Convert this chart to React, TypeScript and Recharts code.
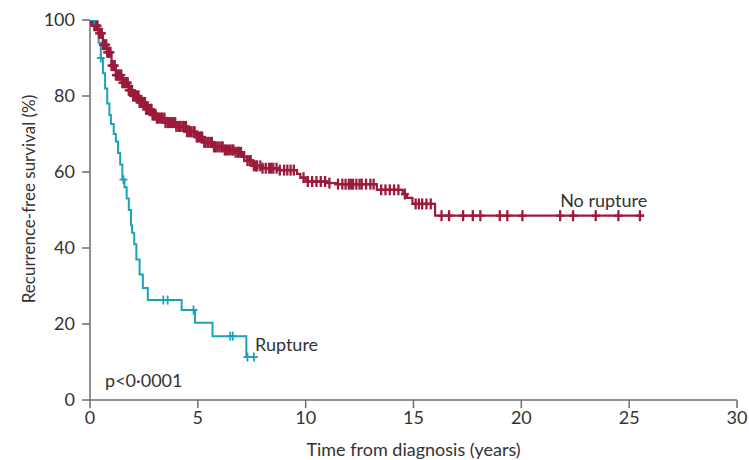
import React from "react";
import { ComposedChart, Line, Scatter, XAxis, YAxis, ReferenceDot } from "recharts";

// axis ticks
const xTicks = [0, 5, 10, 15, 20, 25, 30];
const yTicks = [0, 20, 40, 60, 80, 100];

// No rupture: Kaplan-Meier step points (years, % recurrence-free)
const noRuptureTimes = [
  0, 0.2, 0.4, 0.6, 0.8, 1.0, 1.2, 1.5, 1.8, 2.0, 2.3, 2.6, 2.9, 3.1, 3.5, 4.0, 4.5, 4.9, 5.3, 5.7,
  6.2, 6.7, 7.1, 7.3, 7.55, 8.0, 8.8, 9.6, 9.75, 10.0, 11.0, 11.4, 13.3, 14.5, 14.7, 14.95, 16.0, 25.7,
];
const noRuptureSurvival = [
  100, 98.5, 96.5, 93.5, 91.5, 88, 85.5, 83.5, 81.5, 80, 78.3, 76.5, 75, 74.2, 73, 72, 70.6, 69.2, 67.8, 66.6,
  65.8, 65.2, 64, 63, 61.6, 61, 60.5, 59.5, 58.5, 57.5, 57.1, 56.8, 55.3, 54.2, 53.2, 51.6, 48.5, 48.5,
];
const noRuptureCensored = [
  0.05, 0.1, 0.15, 0.2, 0.25, 0.3, 0.35, 0.42, 0.5, 0.55, 0.6, 0.68, 0.75, 0.8, 0.85, 0.9, 0.95, 1.0,
  1.05, 1.1, 1.15, 1.2, 1.25, 1.3, 1.35, 1.4, 1.45, 1.5, 1.55, 1.6, 1.65, 1.7, 1.75, 1.8, 1.85, 1.9, 1.95, 2.0,
  2.05, 2.1, 2.15, 2.2, 2.25, 2.3, 2.35, 2.4, 2.45, 2.5, 2.55, 2.6, 2.65, 2.7, 2.75, 2.8, 2.85, 2.9, 2.95,
  3.0, 3.05, 3.1, 3.15, 3.2, 3.3, 3.35, 3.45, 3.5, 3.6, 3.65, 3.7, 3.8, 3.85, 3.95, 4.0, 4.1, 4.15, 4.2,
  4.3, 4.35, 4.45, 4.5, 4.6, 4.65, 4.7, 4.8, 4.85, 4.95, 5.0, 5.1, 5.15, 5.2, 5.3, 5.35, 5.45, 5.5, 5.6,
  5.65, 5.75, 5.8, 5.9, 6.0, 6.1, 6.15, 6.25, 6.3, 6.4, 6.5, 6.6, 6.65, 6.75, 6.85, 6.9, 7.0, 7.15, 7.3,
  7.4, 7.45, 7.6, 7.7, 7.75, 7.9, 8.0, 8.15, 8.3, 8.4, 8.5, 8.65, 8.8, 9.0, 9.15, 9.3, 9.45,
  9.9, 10.1, 10.3, 10.5, 10.7, 10.9, 11.1, 11.5, 11.7, 11.85, 12.0, 12.1, 12.2, 12.35, 12.5, 12.6, 12.8,
  13.0, 13.15, 13.5, 13.7, 13.9, 14.1, 14.3, 14.6, 15.1, 15.25, 15.4, 15.6, 15.8, 16.3, 16.65, 17.3,
  17.75, 18.1, 19.0, 19.35, 20.05, 21.8, 22.4, 23.45, 24.5, 25.5,
];

// Rupture
const ruptureTimes = [
  0, 0.28, 0.4, 0.5, 0.6, 0.7, 0.8, 0.9, 0.97, 1.1, 1.2, 1.3, 1.4, 1.5, 1.6, 1.7, 1.8, 1.9, 1.95,
  2.05, 2.15, 2.3, 2.45, 2.68, 4.25, 4.87, 5.68, 7.25, 7.65,
];
const ruptureSurvival = [
  100, 98, 94, 90, 86, 82, 78, 75, 72.6, 70, 68, 65, 62, 58, 56, 53, 50, 46, 44,
  41, 37, 33, 29.5, 26.3, 23.7, 20.3, 16.8, 11.3, 11.3,
];
const ruptureCensored = [0.2, 0.5, 1.55, 3.4, 3.6, 4.8, 6.5, 6.62, 7.3, 7.6];

const RED = "#9b1b3c";
const TEAL = "#1ba3b7";
const AXIS = "#6e6e6e";
const TEXT = "#333333";

const toRows = (times: number[], surv: number[]) => times.map((t, i) => ({ t, s: surv[i] }));

// value of the KM step function at time t
const stepAt = (times: number[], surv: number[], t: number) => {
  let v = surv[0];
  for (let i = 0; i < times.length; i++) if (times[i] <= t) v = surv[i];
  return v;
};

const censorRows = (cens: number[], times: number[], surv: number[]) =>
  cens.map((t) => ({ t, s: stepAt(times, surv, t) }));

const noRuptureData = toRows(noRuptureTimes, noRuptureSurvival);
const ruptureData = toRows(ruptureTimes, ruptureSurvival);
const noRuptureMarks = censorRows(noRuptureCensored, noRuptureTimes, noRuptureSurvival);
const ruptureMarks = censorRows(ruptureCensored, ruptureTimes, ruptureSurvival);

const plus = (color: string, w: number, h: number) => (props: any) => {
  const { cx, cy } = props;
  return (
    <g stroke={color} strokeWidth={w}>
      <line x1={cx} y1={cy - h} x2={cx} y2={cy + h} />
      <line x1={cx - 4} y1={cy} x2={cx + 4} y2={cy} />
    </g>
  );
};

const YTitle = (props: any) => {
  const { viewBox } = props;
  const cy = viewBox.y + viewBox.height / 2 - 11;
  return (
    <text x={28} y={cy} transform={`rotate(-90 28 ${cy})`} textAnchor="middle" dominantBaseline="central" fill={TEXT} fontSize={17}>
      Recurrence-free survival (%)
    </text>
  );
};

const XTitle = (props: any) => {
  const { viewBox } = props;
  const cx = viewBox.x + viewBox.width / 2;
  return (
    <text x={cx} y={449} textAnchor="middle" dominantBaseline="central" fill={TEXT} fontSize={18}>
      Time from diagnosis (years)
    </text>
  );
};

const note = (value: string) => ({ value, position: "right" as const, offset: 0, fill: TEXT, fontSize: 18 });

export default function App() {
  return (
    <div style={{ position: "absolute", left: 0, top: 0, width: 749, height: 460, background: "#fff", fontFamily: "Lato, 'Open Sans', sans-serif" }}>
      <ComposedChart width={749} height={460} margin={{ top: 20, right: 12, bottom: 0, left: 0 }}>
        <XAxis
          type="number"
          dataKey="t"
          domain={[0, 30]}
          ticks={xTicks}
          allowDataOverflow
          stroke={AXIS}
          strokeWidth={1.5}
          tickSize={8}
          tickMargin={3}
          height={60}
          tick={{ fill: TEXT, fontSize: 18 }}
          label={<XTitle />}
        />
        <YAxis
          type="number"
          dataKey="s"
          domain={[0, 100]}
          ticks={yTicks}
          allowDataOverflow
          stroke={AXIS}
          strokeWidth={1.5}
          tickSize={8}
          tickMargin={7}
          width={90}
          tick={{ fill: TEXT, fontSize: 18 }}
          label={<YTitle />}
        />
        <Line data={noRuptureData} dataKey="s" type="stepAfter" stroke={RED} strokeWidth={2.2} dot={false} isAnimationActive={false} />
        <Line data={ruptureData} dataKey="s" type="stepAfter" stroke={TEAL} strokeWidth={2} dot={false} isAnimationActive={false} />
        <Scatter data={noRuptureMarks} dataKey="s" shape={plus(RED, 2.3, 5.5)} isAnimationActive={false} />
        <Scatter data={ruptureMarks} dataKey="s" shape={plus(TEAL, 1.8, 4.5)} isAnimationActive={false} />
        <ReferenceDot x={21.8} y={52.4} r={0} stroke="none" fill="none" label={note("No rupture")} />
        <ReferenceDot x={7.65} y={14.5} r={0} stroke="none" fill="none" label={note("Rupture")} />
        <ReferenceDot x={0.7} y={5} r={0} stroke="none" fill="none" label={note("p<0·0001")} />
      </ComposedChart>
    </div>
  );
}
